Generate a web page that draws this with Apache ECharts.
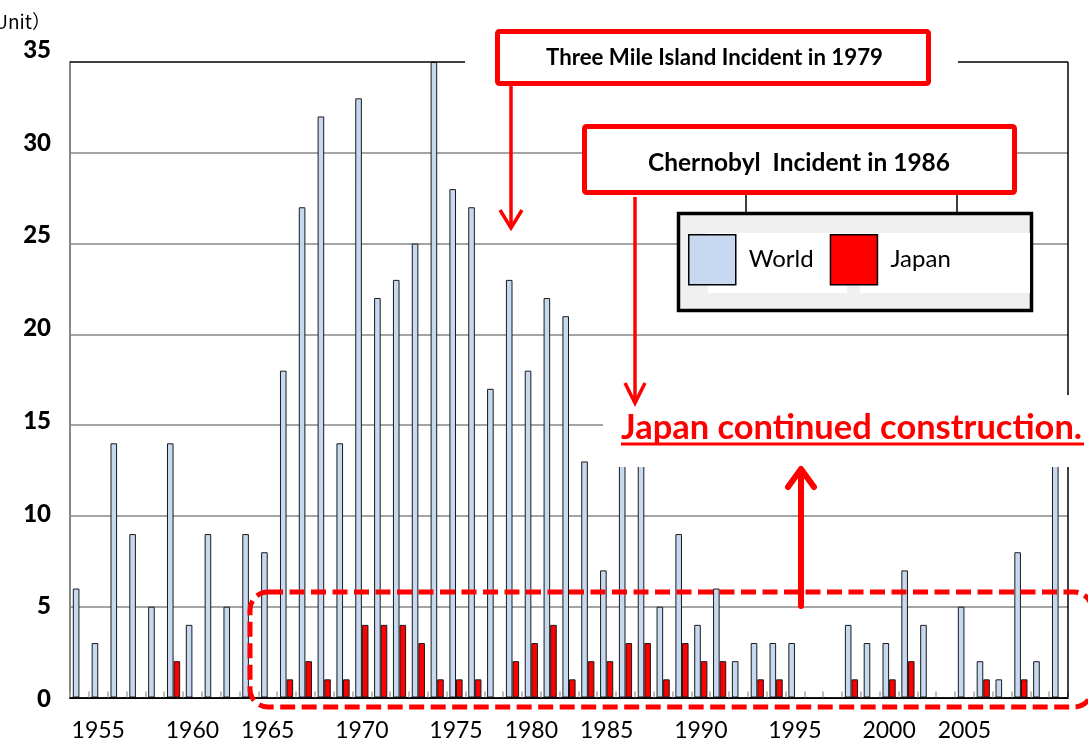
<!DOCTYPE html>
<html>
<head>
<meta charset="utf-8">
<script src="https://cdn.jsdelivr.net/npm/echarts@6/dist/echarts.min.js"></script>
<style>
html,body{margin:0;padding:0;background:#fff;}
#chart{width:1088px;height:744px;}
</style>
</head>
<body>
<div id="chart"></div>
<script>
// ---- data ----
const seriesNames = ['World', 'Japan'];
const tickLabels = ['', '1955', '', '', '', '', '1960', '', '', '', '1965', '', '', '', '', '1970', '', '', '', '', '1975', '', '', '', '1980', '', '', '', '1985', '', '', '', '', '1990', '', '', '', '', '1995', '', '', '', '', '2000', '', '', '', '2005', '', '', '', '', ''];
const worldValues = [6,3,14,9,5,14,4,9,5,9,8,18,27,32,14,33,22,23,25,35,28,27,17,23,18,22,21,13,7,15,15,5,9,4,6,2,3,3,3,0,0,4,3,3,7,4,0,5,2,1,8,2,15];
const japanValues = [0,0,0,0,0,2,0,0,0,0,0,1,2,1,1,4,4,4,3,1,1,1,0,2,3,4,1,2,2,3,3,1,3,2,2,0,1,1,0,0,0,1,0,1,2,0,0,0,1,0,1,0,0];
const yTicks = [0, 35, 5]; // min, max, interval
const unitText = '（Unit）';
const note1979 = 'Three Mile Island Incident in 1979';
const note1986 = 'Chernobyl  Incident in 1986';
const noteJapan = 'Japan continued construction.';

const slots = tickLabels.map((_, i) => 'c' + i);

function fitScale(text, font, target) {
  const ctx = document.createElement('canvas').getContext('2d');
  ctx.font = font;
  const w = ctx.measureText(text).width;
  return w > 0 ? target / w : 1;
}

const RED = '#ff0000';
const F1979 = '700 22px Lato';
const F1986 = '700 24px Lato';
const FJP = '700 35px Lato';

const chart = echarts.init(document.getElementById('chart'), null, {renderer: 'canvas'});

const option = {
  animation: false,
  backgroundColor: '#ffffff',
  grid: [
    {left: 70, right: 20, top: 62, bottom: 46.5},
    {left: 70, right: 20, top: 50, bottom: 44.5}
  ],
  legend: {
    data: seriesNames,
    left: 688, top: 234, padding: 0,
    itemWidth: 47, itemHeight: 50, itemGap: 16,
    icon: 'rect',
    selectedMode: false,
    itemStyle: {borderColor: '#000', borderWidth: 1.5},
    textStyle: {fontFamily: 'Lato', fontSize: 24, color: '#000', padding: [0, 0, 0, 8]},
    z: 40
  },
  xAxis: [
    {
      type: 'category', gridIndex: 0, data: slots,
      axisLine: {lineStyle: {color: '#000', width: 2}},
      axisTick: {show: true, inside: true, length: 6, interval: 0, lineStyle: {color: '#a6a6a6', width: 1.5}},
      axisLabel: {
        interval: 0, margin: 22, color: '#000', fontFamily: 'Lato', fontSize: 23,
        formatter: (v, i) => tickLabels[i]
      },
      splitLine: {show: false}
    },
    {type: 'value', gridIndex: 1, show: false}
  ],
  yAxis: [
    {
      type: 'value', gridIndex: 0, min: yTicks[0], max: yTicks[1], interval: yTicks[2],
      axisLine: {show: true, lineStyle: {color: '#868686', width: 2}},
      axisTick: {show: false},
      axisLabel: {show: false},
      splitLine: {show: true, lineStyle: {color: ['#868686','#868686','#868686','#868686','#868686','#868686','#868686','rgba(0,0,0,0)'], width: 1.5}}
    },
    {
      type: 'value', gridIndex: 1, min: yTicks[0], max: yTicks[1], interval: yTicks[2],
      axisLine: {show: false}, axisTick: {show: false}, splitLine: {show: false},
      axisLabel: {show: true, margin: 19, color: '#000', fontFamily: 'Lato', fontWeight: 900, fontSize: 24}
    }
  ],
  series: [
    {
      name: seriesNames[0], type: 'bar', xAxisIndex: 0, yAxisIndex: 0,
      data: worldValues, barGap: '0%', barCategoryGap: '30%',
      itemStyle: {color: '#c6d9f1', borderColor: '#1a1a1a', borderWidth: 1}
    },
    {
      name: seriesNames[1], type: 'bar', xAxisIndex: 0, yAxisIndex: 0,
      data: japanValues, barGap: '0%', barCategoryGap: '30%',
      itemStyle: {color: RED, borderColor: '#1a1a1a', borderWidth: 1}
    }
  ],
  graphic: {
    elements: [
      // plot frame (top / right)
      {type: 'line', z: 20, shape: {x1: 70, y1: 62, x2: 465, y2: 62}, style: {stroke: '#000', lineWidth: 1.5}},
      {type: 'line', z: 20, shape: {x1: 958, y1: 62, x2: 1068, y2: 62}, style: {stroke: '#000', lineWidth: 1.5}},
      {type: 'line', z: 20, shape: {x1: 1068, y1: 62, x2: 1068, y2: 697}, style: {stroke: '#000', lineWidth: 1.5}},
      // unit
      {type: 'text', z: 20, x: 51, y: 22, style: {text: unitText, font: '400 19px "Noto Sans CJK JP"', fill: '#000', textAlign: 'right', textVerticalAlign: 'middle'}},
      // Three Mile Island box + arrow
      {type: 'rect', z: 30, shape: {x: 497.5, y: 31.5, width: 431, height: 52, r: 2}, style: {fill: '#fff', stroke: RED, lineWidth: 5}},
      {type: 'text', z: 31, x: 714.5, y: 58, scaleX: fitScale(note1979, F1979, 337), style: {text: note1979, font: F1979, fill: '#000', textAlign: 'center', textVerticalAlign: 'middle'}},
      {type: 'polyline', z: 31, shape: {points: [[511, 86], [511, 227]]}, style: {stroke: RED, lineWidth: 3.5, fill: null}},
      {type: 'polyline', z: 31, shape: {points: [[500, 210], [511, 228], [522, 210]]}, style: {stroke: RED, lineWidth: 3.5, fill: null}},
      // Chernobyl box + arrow
      {type: 'rect', z: 30, shape: {x: 584.5, y: 126.5, width: 430, height: 66, r: 2}, style: {fill: '#fff', stroke: RED, lineWidth: 5}},
      {type: 'text', z: 31, x: 799, y: 163.5, scaleX: fitScale(note1986, F1986, 302), style: {text: note1986, font: F1986, fill: '#000', textAlign: 'center', textVerticalAlign: 'middle'}},
      {type: 'polyline', z: 36, shape: {points: [[635, 197], [635, 402]]}, style: {stroke: RED, lineWidth: 3.5, fill: null}},
      {type: 'polyline', z: 36, shape: {points: [[625, 383], [635, 403], [645, 383]]}, style: {stroke: RED, lineWidth: 3.5, fill: null}},
      // legend frame
      {type: 'line', z: 30, shape: {x1: 746, y1: 195, x2: 746, y2: 212}, style: {stroke: '#000', lineWidth: 1.5}},
      {type: 'line', z: 30, shape: {x1: 957, y1: 195, x2: 957, y2: 212}, style: {stroke: '#000', lineWidth: 1.5}},
      {type: 'rect', z: 30, shape: {x: 678.5, y: 213.5, width: 353, height: 97}, style: {fill: '#f0f0f0', stroke: '#000', lineWidth: 3.5}},
      {type: 'rect', z: 31, shape: {x: 708, y: 233, width: 322, height: 60}, style: {fill: '#fff'}},
      {type: 'rect', z: 32, shape: {x: 847, y: 284, width: 13, height: 9}, style: {fill: '#f0f0f0'}},
      // Japan note
      {type: 'rect', z: 33, shape: {x: 603, y: 395, width: 485, height: 72}, style: {fill: '#fff'}},
      {type: 'text', z: 34, x: 851.5, y: 427.5, scaleX: fitScale(noteJapan, FJP, 461), style: {text: noteJapan, font: FJP, fill: RED, textAlign: 'center', textVerticalAlign: 'middle'}},
      {type: 'line', z: 34, shape: {x1: 621, y1: 444, x2: 1084, y2: 444}, style: {stroke: RED, lineWidth: 3}},
      // dashed highlight + up arrow
      {type: 'rect', z: 35, shape: {x: 250, y: 592, width: 842, height: 115, r: 18}, style: {fill: null, stroke: RED, lineWidth: 5, lineDash: [15, 6.5]}},
      {type: 'polyline', z: 36, shape: {points: [[801, 606], [801, 471]]}, style: {stroke: RED, lineWidth: 6, lineCap: 'round', fill: null}},
      {type: 'polyline', z: 36, shape: {points: [[788, 487], [801, 469], [814, 487]]}, style: {stroke: RED, lineWidth: 6, lineCap: 'round', lineJoin: 'round', fill: null}}
    ]
  }
};
chart.setOption(option);
</script>
</body>
</html>
